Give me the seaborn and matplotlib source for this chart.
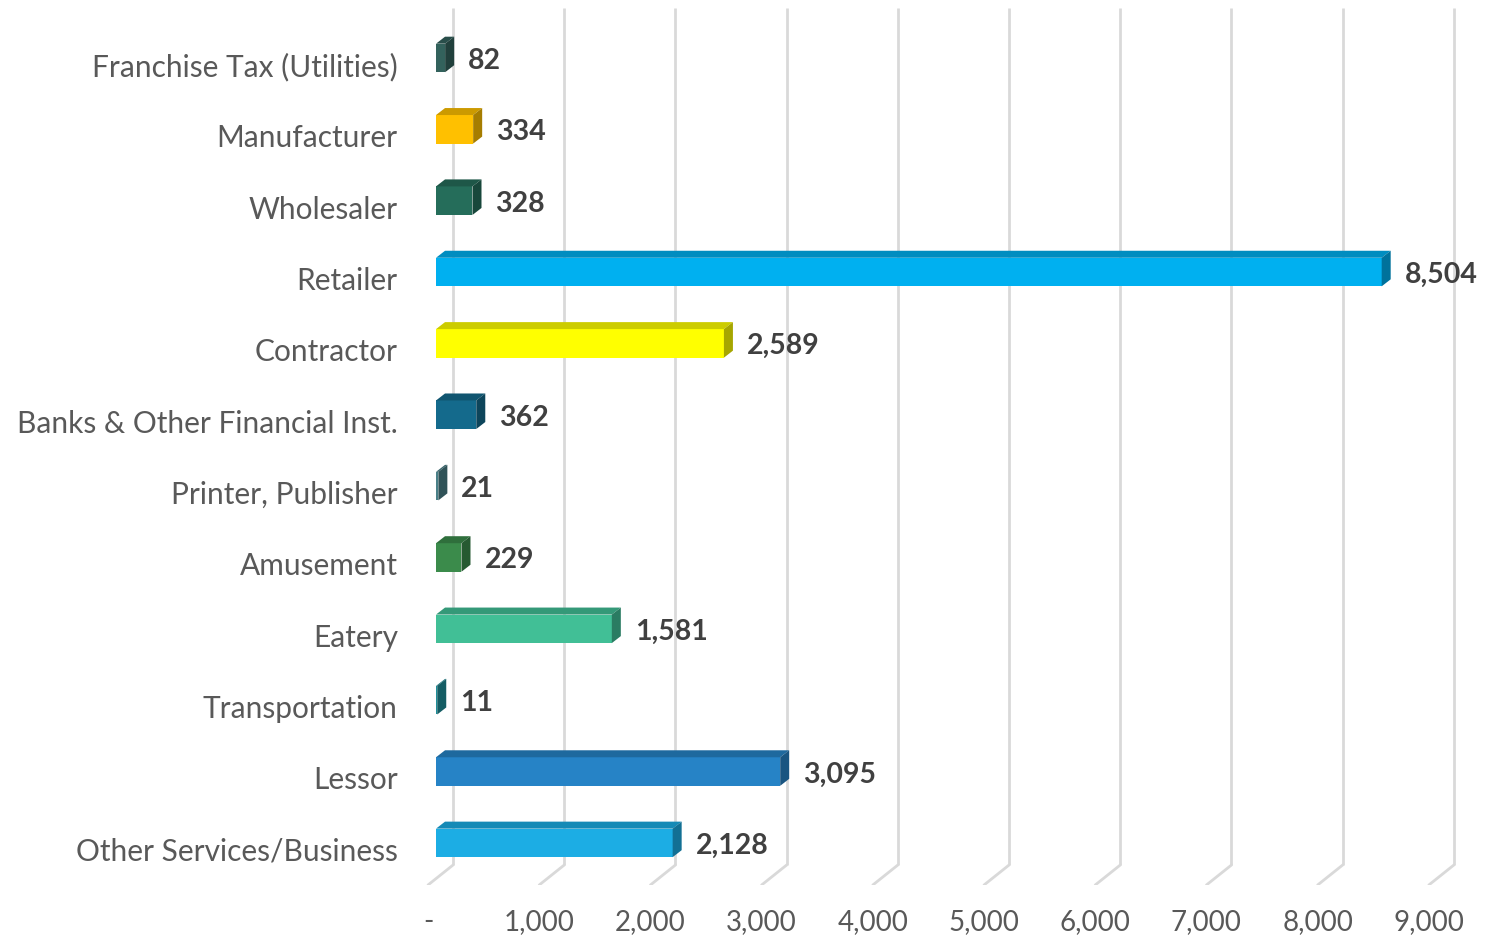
import matplotlib
matplotlib.use("Agg")
import matplotlib.pyplot as plt
from matplotlib.patches import Polygon
import matplotlib.colors as mcolors
import seaborn as sns

# data (top to bottom)
categories = ["Franchise Tax (Utilities)", "Manufacturer", "Wholesaler", "Retailer",
              "Contractor", "Banks & Other Financial Inst.", "Printer, Publisher",
              "Amusement", "Eatery", "Transportation", "Lessor", "Other Services/Business"]
counts = [82, 334, 328, 8504, 2589, 362, 21, 229, 1581, 11, 3095, 2128]
bar_colors = ["#33625C", "#FFC000", "#256D5A", "#00B0F0", "#FFFF00", "#146A8C",
              "#4A8088", "#3B8B4B", "#41BF96", "#1E8F9A", "#2683C6", "#1CADE4"]
x_ticks = [0, 1000, 2000, 3000, 4000, 5000, 6000, 7000, 8000, 9000]

sns.set_theme(style="white")
plt.rcParams["font.family"] = ["Lato", "DejaVu Sans"]

fig = plt.figure(figsize=(14.96, 9.39), dpi=100)
ax = fig.add_axes([420 / 1496, 54 / 939, 1076 / 1496, 877 / 939])

sns.barplot(x=counts, y=categories, hue=categories, palette=bar_colors,
            legend=False, width=0.4, saturation=1, linewidth=0, ax=ax, zorder=3)

# 3d look, offsets in data units
bar_dx = 81     # bar depth ~9 px
bar_dy = 0.098  # ~7 px
wall_dx = 153   # back wall ~17 px behind the front
front = 72      # floor front edge in front of zero

ax.set_xlim(-144, 9532)
ax.set_ylim(11.59, -0.70)

# back wall gridlines + floor lines
for v in x_ticks:
    ax.plot([v + wall_dx, v + wall_dx], [-0.70, 11.31], color="#D9D9D9", lw=2, zorder=1,
            solid_capstyle="butt")
    ax.plot([v + wall_dx, v - front], [11.31, 11.59], color="#D9D9D9", lw=2, zorder=1)

# top and side faces of each bar
for p, c in zip(ax.patches, bar_colors):
    x0, y0 = p.get_x(), p.get_y()
    w, h = p.get_width(), p.get_height()
    yt, yb = min(y0, y0 + h), max(y0, y0 + h)
    rgb = mcolors.to_rgb(c)
    top_c = tuple(k * 0.8 for k in rgb)
    side_c = tuple(k * 0.65 for k in rgb)
    ax.add_patch(Polygon([(x0, yt), (x0 + w, yt), (x0 + w + bar_dx, yt - bar_dy),
                          (x0 + bar_dx, yt - bar_dy)],
                         closed=True, facecolor=top_c, edgecolor="none", zorder=3))
    ax.add_patch(Polygon([(x0 + w, yt), (x0 + w + bar_dx, yt - bar_dy),
                          (x0 + w + bar_dx, yb - bar_dy), (x0 + w, yb)],
                         closed=True, facecolor=side_c, edgecolor="none", zorder=3))
    ax.text(x0 + w + bar_dx + 126, (yt + yb) / 2 + 0.04, f"{int(w):,}", ha="left", va="center",
            fontsize=20.5, fontweight="bold", color="#404040", zorder=4)

# category labels
ax.set_yticks([i + 0.09 for i in range(len(categories))])
ax.set_yticklabels(categories, fontsize=21.5, color="#595959")
ax.tick_params(axis="y", length=0, pad=16)

# value axis labels at the front of the floor
ax.set_xticks([v - front for v in x_ticks])
ax.set_xticklabels(["-" if v == 0 else f"{v:,}" for v in x_ticks], fontsize=20, color="#595959")
ax.tick_params(axis="x", length=0, pad=17)

ax.set_xlabel("")
ax.set_ylabel("")
sns.despine(ax=ax, left=True, bottom=True)

fig.savefig("out.png", dpi=100)
